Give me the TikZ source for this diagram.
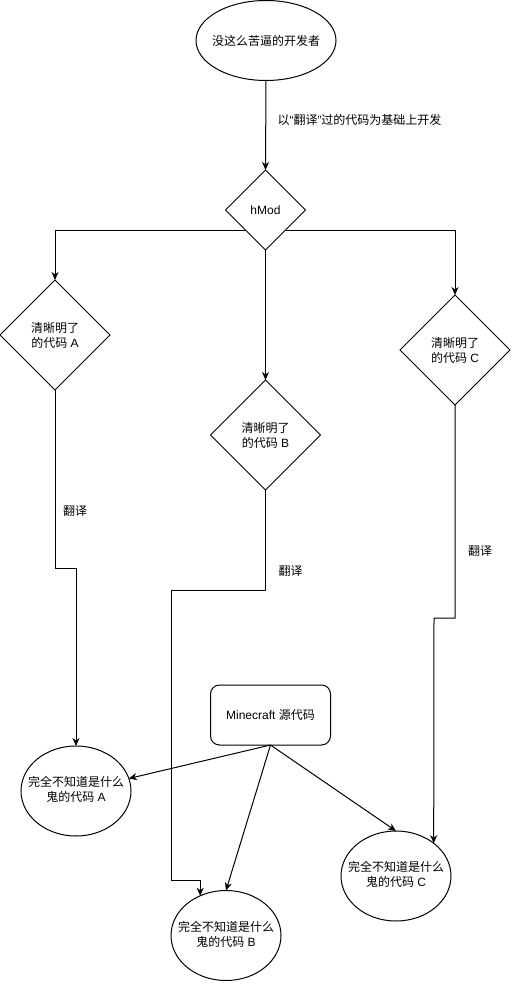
\documentclass[tikz,border=0pt]{standalone}
\usepackage{fontspec}
\setmainfont{Noto Sans CJK SC}
\newfontfamily\latf{Liberation Sans}
\newcommand\la[1]{{\latf #1}}
\newcommand\twolines[2]{\makebox[0pt]{\begin{tabular}{@{}c@{}}#1\\#2\end{tabular}}}
\usetikzlibrary{shapes.geometric,arrows.meta}
\begin{document}
\begin{tikzpicture}[x=1pt,y=-1pt,
  every node/.style={font=\fontsize{12}{15}\selectfont, inner sep=0pt, outer sep=0pt},
  ell/.style={draw, line width=1pt, ellipse, minimum width=110pt, minimum height=90pt},
  topell/.style={draw, line width=1pt, ellipse, minimum width=140pt, minimum height=80pt},
  dia/.style={draw, line width=1pt, diamond, aspect=1, minimum width=110pt, minimum height=110pt, align=center},
  smalldia/.style={draw, line width=1pt, diamond, aspect=1, minimum width=80pt, minimum height=80pt},
  rbox/.style={draw, line width=1pt, rounded corners=9pt, minimum width=120pt, minimum height=60pt},
  lab/.style={fill=none},
  arr/.style={line width=1pt, -{Stealth[length=8pt,width=7pt,inset=2.5pt]}}
]
\useasboundingbox (0,0) rectangle (512,984);
\fill[white] (0,0) rectangle (512,984);

% nodes
\node[topell] (dev) at (266,40.5) {\makebox[0pt]{没这么苦逼的开发者}};
\node[smalldia] (hm) at (265.5,210) {\la{hMod}};
\node[dia] (dA) at (55,335) {清晰明了\\的代码\la{ A}};
\node[dia] (dB) at (265.5,435) {清晰明了\\的代码\la{ B}};
\node[dia] (dC) at (455,350) {清晰明了\\的代码\la{ C}};
\node[rbox] (mc) at (270.5,715) {\la{Minecraft }源代码};
\node[ell] (eA) at (76,791) {\twolines{完全不知道是什么}{鬼的代码\la{ A}}};
\node[ell] (eB) at (226,935.5) {\twolines{完全不知道是什么}{鬼的代码\la{ B}}};
\node[ell] (eC) at (396,876) {\twolines{完全不知道是什么}{鬼的代码\la{ C}}};

% labels
\node[lab, anchor=west] (l0) at (277.5,120) {以\la{“}翻译\la{”}过的代码为基础上开发};
\node[lab] (lA) at (75,511) {翻译};
\node[lab] (lB) at (290.5,571) {翻译};
\node[lab] (lC) at (480,551) {翻译};

% jog coordinates
\coordinate (jA) at (76,568);
\coordinate (jB1) at (171,590);
\coordinate (jB2) at (171,880);
\coordinate (jC) at (434,618);

% connectors
\draw[arr] (dev.south) -- (hm.north);
\draw[arr] (hm.225) -| (dA.north);
\draw[arr] (hm.315) -| (dC.north);
\draw[arr] (hm.south) -- (dB.north);
\draw[arr] (dA.south) |- (jA) -- (eA.north);
\draw[arr] (dB.south) |- (jB1) -- (jB2) -| (eB.123);
\draw[arr] (dC.south) |- (jC) -- (eC.41);
\draw[arr] (mc.south) -- (eA);
\draw[arr] (mc.south) -- (eB.north);
\draw[arr] (mc.south) -- (eC.north);
\end{tikzpicture}
\end{document}
